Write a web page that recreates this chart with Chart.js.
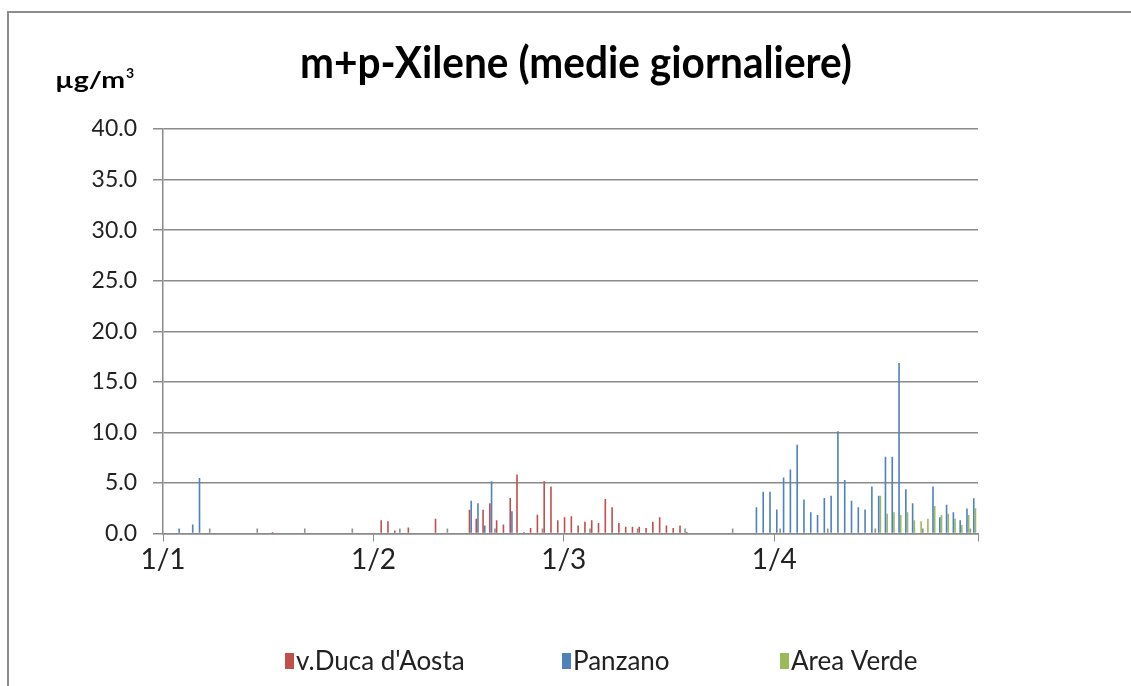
<!DOCTYPE html>
<html>
<head>
<meta charset="utf-8">
<script src="https://cdn.jsdelivr.net/npm/chart.js@4.4.0/dist/chart.umd.min.js"></script>
<style>
  html, body { margin: 0; padding: 0; background: #ffffff; }
  #wrap { width: 1131px; height: 686px; position: relative; }
</style>
</head>
<body>
<div id="wrap"><canvas id="c" width="1131" height="686"></canvas></div>
<script>
// ---- data (day index: 0 = 1 January) ----
const monthStartDays = [0, 31, 59, 90, 120];
const monthLabels = ['1/1', '1/2', '1/3', '1/4', ''];

const seriesNames = ["v.Duca d'Aosta", 'Panzano', 'Area Verde', ''];

const ducaDays = [16, 32, 33, 34, 36, 40, 45, 46, 47, 48, 49, 50, 51, 52, 53, 54, 55, 56, 57, 58,
                  59, 60, 61, 62, 63, 64, 65, 66, 67, 68, 69, 70, 71, 72, 73, 74, 75, 76, 77];
const ducaValues = [0.15, 1.3, 1.2, 0.3, 0.6, 1.45, 2.35, 1.45, 2.35, 3.0, 1.3, 0.9, 3.5, 5.84, 0.15, 0.55, 1.85, 5.17, 4.66, 1.3,
                    1.6, 1.7, 0.8, 1.17, 1.3, 1.04, 3.4, 2.6, 1.04, 0.67, 0.67, 0.67, 0.54, 1.17, 1.6, 0.8, 0.54, 0.8, 0.15];

const panzanoDays = [2, 4, 5, 45, 46, 47, 48, 51,
                     87, 88, 89, 90, 91, 92, 93, 94, 95, 96, 97, 98, 99, 100, 101, 102, 103, 104, 105, 106, 107, 108, 109, 110,
                     113, 114, 115, 116, 117, 118, 119];
const panzanoValues = [0.5, 0.9, 5.5, 3.25, 3.0, 0.8, 5.17, 2.2,
                       2.6, 4.13, 4.13, 2.37, 5.53, 6.33, 8.77, 3.37, 2.1, 1.83, 3.5, 3.73, 10.1, 5.3, 3.23, 2.6, 2.37, 4.64, 3.74, 7.58, 7.58, 16.85, 4.37, 2.98,
                       4.64, 1.6, 2.85, 2.09, 1.32, 2.48, 3.48];

const verdeDays = [105, 106, 107, 108, 109, 110, 111, 112, 113, 114, 115, 116, 117, 118, 119];
const verdeValues = [3.74, 1.95, 2.09, 1.82, 2.09, 1.32, 1.2, 1.46, 2.72, 1.82, 1.95, 1.46, 0.83, 1.82, 2.5];

const weeklyDays = [6, 13, 20, 27, 34, 41, 48, 55, 62, 69, 76, 83, 90, 97, 104, 111, 118];
const weeklyValues = [0.5, 0.5, 0.5, 0.5, 0.5, 0.5, 0.5, 0.5, 0.5, 0.5, 0.5, 0.5, 0.5, 0.5, 0.5, 0.5, 0.5];

const yTickValues = [0, 5, 10, 15, 20, 25, 30, 35, 40];

const titleText = 'm+p-Xilene (medie giornaliere)';
const unitMain = 'µg/m';
const unitSup = '3';

// ---- helpers ----
const pts = (days, vals) => days.map((d, i) => ({ x: d, y: vals[i] }));
const FONT = 'Lato, "Open Sans", "Liberation Sans", sans-serif';
const GRID = '#8a8a8a';

function fitText(ctx, text, x, y, targetWidth) {
  const w = ctx.measureText(text).width;
  ctx.save();
  ctx.translate(x, y);
  ctx.scale(targetWidth / w, 1);
  ctx.fillText(text, 0, 0);
  ctx.restore();
}

const decor = {
  id: 'decor',
  afterDraw(chart) {
    const ctx = chart.ctx;
    ctx.save();
    // outer border
    ctx.strokeStyle = '#8c8c8c';
    ctx.lineWidth = 2;
    ctx.strokeRect(8, 12, 1140, 700);
    // title
    ctx.fillStyle = '#000';
    ctx.textBaseline = 'alphabetic';
    ctx.textAlign = 'left';
    ctx.font = 'bold 44px ' + FONT;
    fitText(ctx, titleText, 300, 78, 552);
    // unit label
    ctx.font = 'bold 23px ' + FONT;
    const mw = ctx.measureText(unitMain).width;
    fitText(ctx, unitMain, 55, 88, 70);
    ctx.font = 'bold 14px ' + FONT;
    ctx.fillText(unitSup, 55 + 70 + 1, 78);
    // legend
    const lx = [285, 562, 780];
    ctx.font = '26px ' + FONT;
    ctx.textBaseline = 'middle';
    chart.data.datasets.forEach((ds, i) => {
      if (!ds.label) return;
      ctx.fillStyle = ds.backgroundColor;
      ctx.fillRect(lx[i], 653, 9, 16);
      ctx.fillStyle = '#222';
      ctx.fillText(ds.label, lx[i] + 11, 662);
    });
    ctx.restore();
  }
};

new Chart(document.getElementById('c'), {
  type: 'bar',
  data: {
    datasets: [
      { label: seriesNames[0], data: pts(ducaDays, ducaValues), backgroundColor: '#C0504D' },
      { label: seriesNames[1], data: pts(panzanoDays, panzanoValues), backgroundColor: '#4F81BD' },
      { label: seriesNames[2], data: pts(verdeDays, verdeValues), backgroundColor: '#9BBB59' },
      { label: seriesNames[3], data: pts(weeklyDays, weeklyValues), backgroundColor: '#8f8f8f' }
    ]
  },
  options: {
    responsive: false,
    animation: false,
    devicePixelRatio: 1,
    categoryPercentage: 1.0,
    barPercentage: 0.95,
    layout: { padding: { top: 129, left: 10, right: 153, bottom: 100 } },
    plugins: {
      legend: { display: false },
      title: { display: false },
      tooltip: { enabled: false }
    },
    scales: {
      x: {
        type: 'linear',
        offset: false,
        min: monthStartDays[0] - 0.5,
        max: monthStartDays[monthStartDays.length - 1] - 0.5,
        afterBuildTicks: (s) => { s.ticks = monthStartDays.map(d => ({ value: d - 0.5 })); },
        afterFit: (s) => { s.height = 52.5; },
        ticks: {
          autoSkip: false,
          maxRotation: 0,
          padding: 2,
          color: '#222',
          font: { family: FONT, size: 28 },
          callback: (v, i) => monthLabels[i]
        },
        grid: { display: true, drawOnChartArea: false, drawTicks: true, tickLength: 8, color: GRID, offset: false },
        border: { display: true, color: GRID, width: 1.5 }
      },
      y: {
        min: 0,
        max: 40,
        afterBuildTicks: (s) => { s.ticks = yTickValues.map(v => ({ value: v })); },
        afterFit: (s) => { s.width = 153; },
        ticks: {
          padding: 16,
          color: '#222',
          font: { family: FONT, size: 23 },
          callback: (v) => Number(v).toFixed(1)
        },
        grid: { color: GRID, lineWidth: 1.5, tickLength: 10 },
        border: { display: true, color: GRID, width: 1.5 }
      }
    }
  },
  plugins: [decor]
});
</script>
</body>
</html>
